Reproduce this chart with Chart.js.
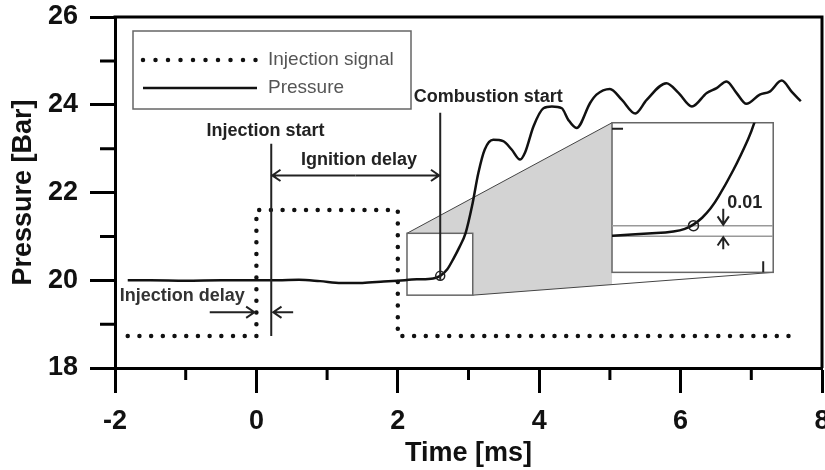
<!DOCTYPE html>
<html>
<head>
<meta charset="utf-8">
<script src="https://cdn.jsdelivr.net/npm/chart.js@4.4.1/dist/chart.umd.min.js"></script>
<style>
  html, body { margin: 0; padding: 0; background: #fff; }
  #wrap { width: 825px; height: 470px; }
</style>
</head>
<body>
<div id="wrap"><canvas id="pressureChart"></canvas></div>
<script>
// pressure trace
var timeMs = [-1.82, -1.5, -1.0, -0.5, 0, 0.3, 0.6, 0.9, 1.2, 1.5, 1.8, 2.0, 2.27, 2.5, 2.6, 2.7,
  2.79, 2.87, 2.96, 3.05, 3.14, 3.23, 3.35, 3.49, 3.61, 3.73, 3.8, 3.92, 4.06, 4.18, 4.32, 4.41,
  4.53, 4.72, 4.81, 5.0, 5.17, 5.36, 5.52, 5.8, 5.97, 6.16, 6.37, 6.51, 6.65, 6.79, 6.93, 7.12,
  7.26, 7.43, 7.57, 7.7];
var pressureBar = [20.0, 20.0, 19.99, 20.0, 20.0, 20.0, 20.01, 19.98, 19.94, 19.94, 19.97, 19.99, 20.02, 20.04, 20.1, 20.25,
  20.5, 20.75, 21.08, 21.69, 22.45, 22.98, 23.2, 23.17, 22.98, 22.75, 22.91, 23.51, 23.92, 23.96, 23.92, 23.66,
  23.47, 24.04, 24.23, 24.36, 24.11, 23.8, 24.11, 24.49, 24.27, 23.96, 24.27, 24.38, 24.53, 24.27, 24.02, 24.23,
  24.3, 24.55, 24.3, 24.08];

// injection signal (square pulse)
var signalTime = [-1.82, 0, 0, 2, 2, 7.6];
var signalLevel = [18.73, 18.73, 21.6, 21.6, 18.73, 18.73];

var xTicks = [-2, 0, 2, 4, 6, 8];
var yTicks = [18, 20, 22, 24, 26];

// events
var injectionStart = 0.21;
var combustionStart = [2.6, 20.1];
var injectionDelay = [0, 0.21];
var insetLevels = [20.0, 20.1];

// zoomed window and where it is magnified
var zoomX = [2.13, 3.06], zoomY = [19.66, 21.07];
var magX = [5.03, 7.31], magY = [20.18, 23.59];

var FONT = '"Liberation Sans", Arial, sans-serif';
Chart.defaults.font.family = FONT;

function toPoints(xs, ys) {
  return xs.map(function (x, i) { return {x: x, y: ys[i]}; });
}

function arrow(c, x1, y1, x2, y2) {
  var a = Math.atan2(y2 - y1, x2 - x1), L = 10, w = 0.6;
  c.beginPath();
  c.moveTo(x1, y1); c.lineTo(x2, y2);
  c.moveTo(x2 - L * Math.cos(a - w), y2 - L * Math.sin(a - w));
  c.lineTo(x2, y2);
  c.lineTo(x2 - L * Math.cos(a + w), y2 - L * Math.sin(a + w));
  c.stroke();
}

function boxOf(chart, xr, yr) {
  var X = chart.scales.x, Y = chart.scales.y;
  return {l: X.getPixelForValue(xr[0]), r: X.getPixelForValue(xr[1]),
          t: Y.getPixelForValue(yr[1]), b: Y.getPixelForValue(yr[0])};
}

var annotate = {
  id: 'annotate',
  beforeDatasetsDraw: function (chart) {
    var c = chart.ctx;
    var s = boxOf(chart, zoomX, zoomY), b = boxOf(chart, magX, magY);
    c.save();
    var yb = s.b + (b.b - s.b) * (b.l - s.r) / (b.r - s.r);
    c.fillStyle = '#d3d3d3';
    c.beginPath();
    c.moveTo(s.l, s.t); c.lineTo(b.l, b.t); c.lineTo(b.l, yb);
    c.lineTo(s.r, s.b); c.lineTo(s.r, s.t); c.closePath();
    c.fill();
    c.fillStyle = '#fff';
    c.fillRect(s.l, s.t, s.r - s.l, s.b - s.t);
    c.fillRect(b.l, b.t, b.r - b.l, b.b - b.t);
    c.strokeStyle = '#444'; c.lineWidth = 1;
    c.beginPath();
    c.moveTo(s.l, s.t); c.lineTo(b.l, b.t);
    c.moveTo(s.r, s.b); c.lineTo(b.r, b.b);
    c.stroke();
    c.strokeStyle = '#666'; c.lineWidth = 1.5;
    c.strokeRect(s.l, s.t, s.r - s.l, s.b - s.t);
    c.strokeRect(b.l, b.t, b.r - b.l, b.b - b.t);
    c.restore();
  },
  afterDatasetsDraw: function (chart) {
    var c = chart.ctx, X = chart.scales.x, Y = chart.scales.y, a = chart.chartArea;
    var x = function (v) { return X.getPixelForValue(v); };
    var y = function (v) { return Y.getPixelForValue(v); };
    c.save();

    // frame top / right
    c.strokeStyle = '#000'; c.lineWidth = 3;
    c.beginPath();
    c.moveTo(a.left - 1.5, a.top); c.lineTo(a.right, a.top); c.lineTo(a.right, a.bottom);
    c.stroke();
    // minor ticks
    c.beginPath();
    for (var i = 0; i < xTicks.length - 1; i++) {
      var mx = x((xTicks[i] + xTicks[i + 1]) / 2);
      c.moveTo(mx, a.bottom); c.lineTo(mx, a.bottom + 12);
    }
    for (var j = 0; j < yTicks.length - 1; j++) {
      var my = y((yTicks[j] + yTicks[j + 1]) / 2);
      c.moveTo(a.left, my); c.lineTo(a.left - 15, my);
    }
    c.stroke();

    // legend box
    var lx = a.left + 18, ly = a.top + 14;
    c.fillStyle = '#fff';
    c.fillRect(lx, ly, 278, 78);
    c.strokeStyle = '#666'; c.lineWidth = 1.5;
    c.strokeRect(lx, ly, 278, 78);
    c.strokeStyle = '#111'; c.lineWidth = 4.5; c.lineCap = 'round';
    c.setLineDash([0, 12.5]);
    c.beginPath(); c.moveTo(lx + 10, ly + 29); c.lineTo(lx + 124, ly + 29); c.stroke();
    c.setLineDash([]); c.lineWidth = 2.5; c.lineCap = 'butt';
    c.beginPath(); c.moveTo(lx + 10, ly + 57); c.lineTo(lx + 124, ly + 57); c.stroke();
    c.fillStyle = '#555'; c.font = '19px ' + FONT;
    c.textBaseline = 'middle'; c.textAlign = 'left';
    c.fillText('Injection signal', lx + 135, ly + 29);
    c.fillText('Pressure', lx + 135, ly + 57);

    // event lines
    c.strokeStyle = '#222'; c.lineWidth = 2;
    c.beginPath();
    c.moveTo(x(injectionStart), y(23.11)); c.lineTo(x(injectionStart), y(18.73));
    c.moveTo(x(combustionStart[0]), y(23.82)); c.lineTo(x(combustionStart[0]), y(combustionStart[1]) + 4);
    c.stroke();
    arrow(c, x(1.4), y(22.39), x(injectionStart) + 1, y(22.39));
    arrow(c, x(1.4), y(22.39), x(combustionStart[0]) - 1, y(22.39));
    arrow(c, x(-0.66), y(19.27), x(injectionDelay[0]) - 2, y(19.27));
    arrow(c, x(0.52), y(19.27), x(injectionDelay[1]) + 2, y(19.27));
    c.lineWidth = 1.5;
    c.beginPath();
    c.arc(x(combustionStart[0]), y(combustionStart[1]), 4.5, 0, Math.PI * 2);
    c.stroke();

    c.font = 'bold 18px ' + FONT; c.textAlign = 'center'; c.fillStyle = '#222';
    c.fillText('Injection start', x(0.13), y(23.39));
    c.fillText('Ignition delay', x(1.45), y(22.73));
    c.fillText('Combustion start', x(3.28), y(24.18));
    c.fillStyle = '#333';
    c.fillText('Injection delay', x(-1.05), y(19.64));

    // magnified inset
    var b = boxOf(chart, magX, magY);
    var mapX = function (v) { return b.l + (v - zoomX[0]) / (zoomX[1] - zoomX[0]) * (b.r - b.l); };
    var mapY = function (v) { return b.b - (v - zoomY[0]) / (zoomY[1] - zoomY[0]) * (b.b - b.t); };
    c.save();
    c.beginPath(); c.rect(b.l, b.t, b.r - b.l, b.b - b.t); c.clip();
    c.strokeStyle = '#999'; c.lineWidth = 1.5;
    c.beginPath();
    insetLevels.forEach(function (v) { c.moveTo(b.l, mapY(v)); c.lineTo(b.r, mapY(v)); });
    c.stroke();
    c.strokeStyle = '#111'; c.lineWidth = 2.5; c.lineJoin = 'round';
    var pts = timeMs.map(function (t, k) { return [mapX(t), mapY(pressureBar[k])]; });
    c.beginPath();
    c.moveTo(pts[0][0], pts[0][1]);
    for (var k = 1; k < pts.length - 1; k++) {
      var mxp = (pts[k][0] + pts[k + 1][0]) / 2, myp = (pts[k][1] + pts[k + 1][1]) / 2;
      c.quadraticCurveTo(pts[k][0], pts[k][1], mxp, myp);
    }
    c.stroke();
    c.restore();
    c.strokeStyle = '#222'; c.lineWidth = 1.5;
    c.beginPath();
    c.arc(mapX(combustionStart[0]), mapY(combustionStart[1]), 5, 0, Math.PI * 2);
    c.stroke();
    c.lineWidth = 2;
    c.beginPath();
    c.moveTo(b.l, b.t + 6); c.lineTo(b.l + 11, b.t + 6);
    c.moveTo(b.r - 10, b.b); c.lineTo(b.r - 10, b.b - 11);
    c.stroke();
    var ax = b.l + 0.69 * (b.r - b.l);
    arrow(c, ax, mapY(insetLevels[1]) - 17, ax, mapY(insetLevels[1]) - 1);
    arrow(c, ax, mapY(insetLevels[0]) + 13, ax, mapY(insetLevels[0]) + 1);
    c.fillStyle = '#222'; c.font = 'bold 18px ' + FONT; c.textAlign = 'left';
    c.fillText('0.01', ax + 4, mapY(insetLevels[1]) - 23);
    c.restore();
  }
};

var tickFont = {size: 27, weight: 'bold'};
var ctx = document.getElementById('pressureChart').getContext('2d');
var chart = new Chart(ctx, {
  type: 'scatter',
  data: {
    datasets: [
      {label: 'Injection signal', data: toPoints(signalTime, signalLevel), showLine: true,
       borderColor: '#111', borderWidth: 4.5, borderDash: [0, 11.7], borderCapStyle: 'round',
       pointRadius: 0, tension: 0, fill: false},
      {label: 'Pressure', data: toPoints(timeMs, pressureBar), showLine: true,
       borderColor: '#111', borderWidth: 2.5, pointRadius: 0, cubicInterpolationMode: 'monotone', fill: false}
    ]
  },
  options: {
    responsive: true,
    maintainAspectRatio: false,
    animation: false,
    layout: {padding: {top: 17, right: 3, left: 0, bottom: 0}},
    plugins: {legend: {display: false}, tooltip: {enabled: false}},
    scales: {
      x: {
        type: 'linear', min: -2, max: 8,
        afterBuildTicks: function (s) { s.ticks = xTicks.map(function (v) { return {value: v}; }); },
        afterFit: function (s) { s.paddingLeft = 0; s.paddingRight = 0; s.height = 102; },
        grid: {drawOnChartArea: false, drawTicks: true, tickLength: 25, tickWidth: 3, tickColor: '#000'},
        border: {color: '#000', width: 3},
        ticks: {font: tickFont, color: '#111', padding: 12, maxRotation: 0},
        title: {display: true, text: 'Time [ms]', font: tickFont, color: '#111', padding: {top: 0, bottom: 0}}
      },
      y: {
        min: 18, max: 26,
        afterBuildTicks: function (s) { s.ticks = yTicks.map(function (v) { return {value: v}; }); },
        afterFit: function (s) { s.paddingTop = 0; s.paddingBottom = 0; s.width = 115; },
        grid: {drawOnChartArea: false, drawTicks: true, tickLength: 25, tickWidth: 3, tickColor: '#000'},
        border: {color: '#000', width: 3},
        ticks: {font: tickFont, color: '#111', padding: 12},
        title: {display: true, text: 'Pressure [Bar]', font: tickFont, color: '#111', padding: {top: 7, bottom: 0}}
      }
    }
  },
  plugins: [annotate]
});
</script>
</body>
</html>
